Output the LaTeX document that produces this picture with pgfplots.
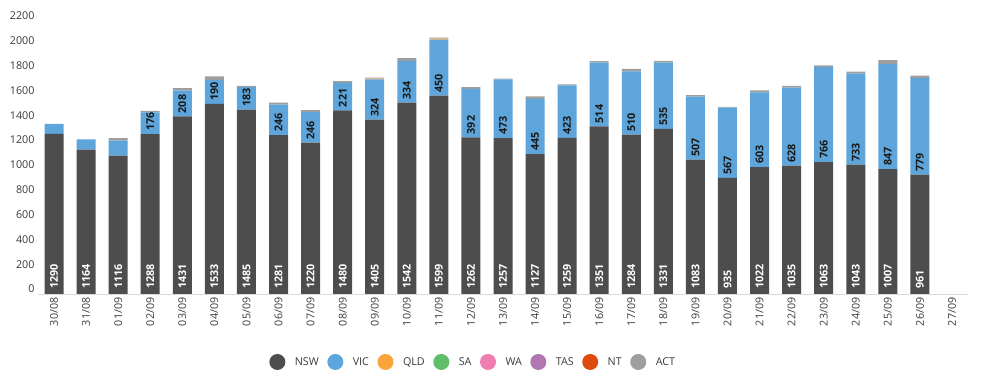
\documentclass[border=0pt]{standalone}
\usepackage{pgfplots}
\usepackage{pgfplotstable}
\pgfplotsset{compat=1.18}
\usepackage{fontspec}
\setmainfont{Open Sans}
\definecolor{cNSW}{HTML}{4D4D4D}
\definecolor{cVIC}{HTML}{5DA5DA}
\definecolor{cQLD}{HTML}{FAA43A}
\definecolor{cSA}{HTML}{60BD68}
\definecolor{cWA}{HTML}{F17CB0}
\definecolor{cTAS}{HTML}{B276B2}
\definecolor{cNT}{HTML}{DD4B0E}
\definecolor{cACT}{HTML}{9E9E9E}
\definecolor{ctxt}{HTML}{3A3A3A}
\pgfkeys{/pgf/number format/.cd, 1000 sep={}, assume math mode=true}
\pgfplotstableread{
x nsw vic qld sa wa tas nt act
0 1290 80 0 0 0 0 0 0
1 1164 82 0 0 0 0 0 0
2 1116 120 0 0 0 0 0 21
3 1288 176 0 0 0 0 0 12
4 1431 208 0 0 0 0 0 20
5 1533 190 0 0 0 0 0 30
6 1485 183 0 0 0 0 0 10
7 1281 246 0 0 0 0 0 15
8 1220 246 0 0 0 0 0 15
9 1480 221 0 0 0 0 0 15
10 1405 324 6 0 0 0 0 8
11 1542 334 0 0 0 0 0 25
12 1599 450 8 0 0 0 0 10
13 1262 392 0 0 0 0 0 14
14 1257 473 0 0 0 0 0 5
15 1127 445 0 0 0 0 0 20
16 1259 423 0 0 0 0 0 8
17 1351 514 0 0 0 0 0 12
18 1284 510 0 0 0 0 0 20
19 1331 535 5 0 0 0 0 8
20 1083 507 0 0 0 0 0 12
21 935 567 0 0 0 0 0 6
22 1022 603 0 0 0 0 0 15
23 1035 628 0 0 0 0 0 14
24 1063 766 0 0 0 0 0 14
25 1043 733 0 0 0 0 0 17
26 1007 847 0 0 0 0 0 30
27 961 779 0 0 0 0 0 20
}\data
\pgfplotsset{
  common/.style={
    at={(38bp,83bp)}, anchor=south west, scale only axis,
    width=930bp, height=273bp,
    xmin=-0.5, xmax=28.5, ymin=0, ymax=2200,
  },
}
\begin{document}
\begin{tikzpicture}
\useasboundingbox (0,0) rectangle (992bp,377bp);
\begin{axis}[common,
  ybar stacked, bar width=19bp,
  axis x line*=bottom, axis y line*=left,
  x axis line style={draw=black!15, line width=0.8pt},
  y axis line style={draw=none},
  major tick length=0pt,
  ytick={0,200,...,2200},
  xtick={0,...,28},
  xticklabels={30/08,31/08,01/09,02/09,03/09,04/09,05/09,06/09,07/09,08/09,09/09,10/09,11/09,12/09,13/09,14/09,15/09,16/09,17/09,18/09,19/09,20/09,21/09,22/09,23/09,24/09,25/09,26/09,27/09},
  ticklabel style={font=\fontsize{10.8}{12}\selectfont, text=ctxt},
  yticklabel style={yshift=5bp},
  xticklabel style={rotate=90, anchor=east},
  legend columns=8,
  legend style={at={(0.468,-0.249)}, anchor=center, draw=none,
    font=\fontsize{10.8}{12}\selectfont, text=ctxt,
    /tikz/every odd column/.append style={column sep=7.5bp},
    /tikz/every even column/.append style={column sep=6.5bp}},
  legend image code/.code={\fill[#1] (0bp,0bp) circle (8bp);},
]
\addplot[fill=cNSW, draw=none] table[x=x, y=nsw] {\data};
\addlegendentry{NSW}
\addplot[fill=cVIC, draw=none] table[x=x, y=vic] {\data};
\addlegendentry{VIC}
\addplot[fill=cQLD, draw=none] table[x=x, y=qld] {\data};
\addlegendentry{QLD}
\addplot[fill=cSA, draw=none] table[x=x, y=sa] {\data};
\addlegendentry{SA}
\addplot[fill=cWA, draw=none] table[x=x, y=wa] {\data};
\addlegendentry{WA}
\addplot[fill=cTAS, draw=none] table[x=x, y=tas] {\data};
\addlegendentry{TAS}
\addplot[fill=cNT, draw=none] table[x=x, y=nt] {\data};
\addlegendentry{NT}
\addplot[fill=cACT, draw=none] table[x=x, y=act] {\data};
\addlegendentry{ACT}
\end{axis}
\begin{axis}[common, hide axis]
\addplot[draw=none, mark=none, nodes near coords, point meta=explicit symbolic,
  every node near coord/.style={rotate=90, anchor=west, inner xsep=5bp, inner ysep=0pt,
    text=white, font=\fontsize{10.8}{12}\selectfont\bfseries}]
coordinates {
(0,0)[1290](1,0)[1164](2,0)[1116](3,0)[1288](4,0)[1431](5,0)[1533](6,0)[1485](7,0)[1281](8,0)[1220](9,0)[1480](10,0)[1405](11,0)[1542](12,0)[1599](13,0)[1262](14,0)[1257](15,0)[1127](16,0)[1259](17,0)[1351](18,0)[1284](19,0)[1331](20,0)[1083](21,0)[935](22,0)[1022](23,0)[1035](24,0)[1063](25,0)[1043](26,0)[1007](27,0)[961]};
\addplot[draw=none, mark=none, nodes near coords, point meta=explicit symbolic,
  every node near coord/.style={rotate=90, anchor=west, inner xsep=3bp, inner ysep=0pt,
    text=black!90, font=\fontsize{10.8}{12}\selectfont\bfseries}]
coordinates {
(3,1288)[176](4,1431)[208](5,1533)[190](6,1485)[183](7,1281)[246](8,1220)[246](9,1480)[221](10,1405)[324](11,1542)[334](12,1599)[450](13,1262)[392](14,1257)[473](15,1127)[445](16,1259)[423](17,1351)[514](18,1284)[510](19,1331)[535](20,1083)[507](21,935)[567](22,1022)[603](23,1035)[628](24,1063)[766](25,1043)[733](26,1007)[847](27,961)[779]};
\end{axis}
\end{tikzpicture}
\end{document}
